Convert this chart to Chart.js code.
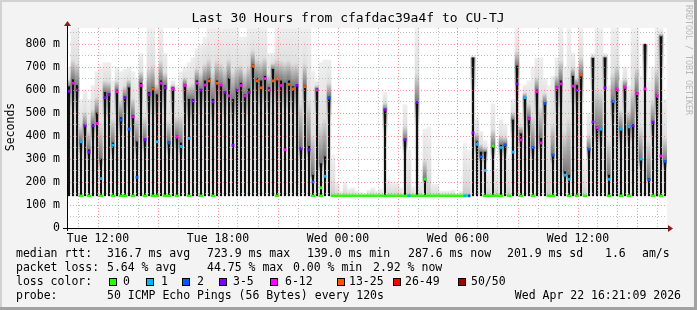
<!DOCTYPE html>
<html>
<head>
<meta charset="utf-8">
<script src="https://cdn.jsdelivr.net/npm/chart.js@4.4.1/dist/chart.umd.min.js"></script>
<style>
  html, body { margin: 0; padding: 0; background: #f3f3f3; }
  canvas { display: block; }
</style>
</head>
<body>
<canvas id="smokeChart" width="697" height="310"></canvas>
<script>
/* SmokePing style latency graph, last 30 hours */

// time axis in hours since Tue 00:00, one slot = 12 minutes
const startHour = 10.45;
const endHour = 40.45;
const slotHours = 0.2;
const baseRtt = 140; // floor of the smoke, ms

// top of the light smoke, ms
const smokeTop = [
  700, 868, 868, 560, 600, 560, 620, 680, 700, 720,
  720, 640, 700, 680, 690, 700, 680, 650, 760, 640,
  868, 868, 700, 868, 760, 600, 640, 620, 680, 700,
  720, 740, 780, 800, 830, 868, 868, 868, 868, 868,
  868, 868, 868, 830, 830, 868, 868, 868, 868, 868,
  760, 760, 868, 868, 868, 868, 868, 868, 868, 868,
  868, 680, 640, 720, 730, 730, 317, 200, 160, 200,
  170, 175, 160, 155, 150, 165, 175, 160, 170, 590,
  210, 200, 200, 175, 536, 340, 180, 868, 200, 430,
  440, 190, 190, 160, 160, 160, 165, 150, 160, 370,
  340, 750, 480, 420, 380, 250, 540, 260, 470, 450,
  320, 560, 868, 500, 620, 640, 700, 740, 740, 650,
  620, 660, 740, 868, 700, 868, 760, 700, 868, 300,
  500, 760, 868, 868, 760, 620, 868, 868, 640, 700,
  620, 868, 868, 660, 800, 640, 700, 868, 868, 560
];

// top of the dense (black) part of the smoke, ms
const coreTop = [
  615, 645, 620, 375, 445, 340, 450, 500, 300, 590,
  585, 370, 600, 480, 570, 610, 490, 375, 630, 385,
  590, 610, 580, 640, 620, 375, 610, 400, 370, 625,
  560, 560, 640, 600, 640, 650, 560, 640, 620, 590,
  650, 560, 600, 630, 580, 605, 710, 650, 640, 660,
  610, 690, 650, 640, 630, 640, 615, 620, 350, 620,
  355, 230, 605, 280, 310, 570, null, null, null, null,
  null, null, null, null, null, null, null, null, null, 514,
  null, null, null, null, 384, null, null, 546, null, 212,
  null, null, null, null, null, null, null, null, null, null,
  null, 740, 375, 330, 330, null, 357, null, 360, 362,
  null, 470, 705, 410, 567, 480, 350, 600, 390, 545,
  null, 320, 615, 640, 245, 230, 660, 620, 665, null,
  345, 738, 440, 430, 740, 230, 550, 605, 430, 615,
  440, 450, 590, 300, 800, 215, 461, 580, 832, 290
];

// median rtt when above the floor, ms
const median = [
  595, 630, 600, 375, 445, 330, 445, 455, 215, 567,
  580, 360, 593, 470, 567, 430, 484, 220, 620, 385,
  580, 605, 375, 630, 610, 370, 605, 395, 355, 620,
  390, 553, 630, 600, 622, 640, 549, 630, 622, 590,
  575, 360, 600, 620, 575, 590, 705, 640, 610, 650,
  600, 640, 648, 620, 340, 625, 605, 620, 345, 615,
  340, 200, 600, 175, 225, 565, null, null, null, null,
  null, null, null, null, null, null, null, null, null, 514,
  null, null, null, null, 384, 140, null, 546, null, 212,
  null, null, null, null, null, null, null, null, null, 140,
  140, 414, 365, 310, 250, null, 357, null, 350, 362,
  null, 330, 627, 383, 567, 475, 350, 593, 370, 542,
  null, 317, 610, 627, 230, 212, 617, 600, 665, null,
  343, 461, 436, 430, 610, 212, 550, 603, 430, 612,
  440, 445, 585, 300, 605, 210, 461, 575, 313, 290
];

// loss class of each slot (index into lossColors)
const loss = [
  3, 4, 3, 1, 3, 3, 3, 4, 1, 3,
  3, 1, 4, 2, 3, 2, 4, 2, 4, 3,
  3, 5, 1, 4, 3, 2, 4, 4, 1, 4,
  1, 3, 4, 3, 4, 5, 3, 5, 4, 3,
  4, 3, 3, 4, 4, 3, 5, 5, 5, 4,
  4, 5, 5, 4, 4, 5, 5, 3, 3, 5,
  3, 2, 4, 0, 1, 2, 0, 0, 0, 0,
  0, 0, 0, 0, 0, 0, 0, 0, 0, 3,
  0, 0, 0, 0, 3, 1, 0, 3, 0, 0,
  0, 0, 0, 0, 0, 0, 0, 0, 0, 1,
  2, 3, 1, 2, 1, 0, 0, 0, 1, 2,
  0, 1, 3, 4, 1, 4, 2, 4, 4, 2,
  0, 2, 4, 4, 1, 1, 4, 3, 5, 0,
  2, 3, 4, 1, 3, 1, 2, 4, 1, 4,
  1, 3, 4, 1, 4, 2, 3, 4, 4, 2
];

// slots where the median sits on the floor with no loss (green)
const baseSlots = [
  3, 5, 8, 11, 13, 14, 16, 19, 21, 22, 24, 25, 27, 30, 33, 36, 52, 61, 63,
  66, 67, 68, 69, 70, 71, 72, 73, 74, 75, 76, 77, 78, 79, 80, 81, 82, 83,
  84, 85, 86, 87, 88, 89, 90, 91, 92, 93, 94, 95, 96, 97, 98, 99,
  104, 105, 106, 107, 108, 110, 113, 116, 120, 121,
  125, 127, 129, 135, 138, 140, 146, 148
];

const lossColors = ['#26ff00', '#00b8ff', '#0059ff', '#7e00ff', '#ff00ff', '#ff5500', '#ff0000', '#a00000'];
const lossLabels = ['0', '1', '2', '3-5', '6-12', '13-25', '26-49', '50/50'];

const yTickValues = [0, 50, 100, 150, 200, 250, 300, 350, 400, 450, 500, 550, 600, 650, 700, 750, 800, 850];
const yTickLabels = ['0', '100 m', '200 m', '300 m', '400 m', '500 m', '600 m', '700 m', '800 m'];
const xTickHours = [11, 12, 13, 14, 15, 16, 17, 18, 19, 20, 21, 22, 23, 24, 25, 26, 27, 28, 29, 30,
  31, 32, 33, 34, 35, 36, 37, 38, 39, 40];
const xLabelHours = [12, 18, 24, 30, 36];
const xLabelTexts = ['Tue 12:00', 'Tue 18:00', 'Wed 00:00', 'Wed 06:00', 'Wed 12:00'];

const titleText = 'Last 30 Hours from cfafdac39a4f to CU-TJ';
const yAxisTitle = 'Seconds';
const rttStats = ['316.7 ms avg', '723.9 ms max', '139.0 ms min', '287.6 ms now', '201.9 ms sd', '1.6', 'am/s'];
const lossStats = ['5.64 % avg', '44.75 % max', '0.00 % min', '2.92 % now'];
const probeText = '50 ICMP Echo Pings (56 Bytes) every 120s';
const stampText = 'Wed Apr 22 16:21:09 2026';
const watermark = 'RRDTOOL / TOBI OETIKER';

const mono = '"DejaVu Sans Mono", "Liberation Mono", monospace';
const majorGrid = 'rgba(240, 110, 110, 0.7)';
const minorGrid = 'rgba(165, 165, 165, 0.7)';

const times = smokeTop.map((_, i) => startHour + slotHours * (i + 0.5));
const floating = arr => arr.map((v, i) => ({x: times[i], y: v === null ? null : [baseRtt, v]}));

// smoke is dark just above the dense part and fades out above and below
function smokeFill(c) {
    if (c.type !== 'data' || c.dataIndex === undefined) return '#e4e4e4';
    const i = c.dataIndex;
    const ys = c.chart.scales.y;
    if (!ys) return '#e4e4e4';
    const top = ys.getPixelForValue(smokeTop[i]);
    const bot = ys.getPixelForValue(baseRtt);
    if (!isFinite(top) || !isFinite(bot) || bot - top < 1) return '#e4e4e4';
    const g = c.chart.ctx.createLinearGradient(0, top, 0, bot);
    if (coreTop[i] === null) {
        g.addColorStop(0, '#f0f0f0');
        g.addColorStop(0.7, '#dedede');
        g.addColorStop(1, '#c8c8c8');
        return g;
    }
    let mid = (ys.getPixelForValue(coreTop[i]) - top) / (bot - top);
    mid = isFinite(mid) ? Math.max(0, Math.min(1, mid)) : 0.5;
    g.addColorStop(0, '#eeeeee');
    g.addColorStop(mid * 0.6, '#e0e0e0');
    g.addColorStop(mid, '#777777');
    g.addColorStop(Math.min(1, mid + (1 - mid) * 0.25), '#e6e6e6');
    g.addColorStop(1, '#fafafa');
    return g;
}

// frame, title, legend rows, arrows
const rrdDecor = {
    id: 'rrdDecor',
    beforeDraw(chart) {
        const {ctx, chartArea: a, width, height} = chart;
        ctx.save();
        ctx.fillStyle = '#f3f3f3';
        ctx.fillRect(0, 0, width, height);
        ctx.fillStyle = '#d2d2d2';
        ctx.fillRect(0, 0, width, 2);
        ctx.fillRect(0, 0, 2, height);
        ctx.fillStyle = '#a2a2a2';
        ctx.fillRect(0, height - 3, width, 3);
        ctx.fillRect(width - 3, 0, 3, height);
        ctx.fillStyle = '#ffffff';
        ctx.fillRect(a.left, a.top, a.right - a.left, a.bottom - a.top);
        ctx.restore();
    },
    afterDraw(chart) {
        const {ctx, chartArea: a} = chart;
        ctx.save();

        // axes with arrows
        ctx.strokeStyle = '#000000';
        ctx.lineWidth = 1;
        ctx.beginPath();
        ctx.moveTo(a.left - 4, a.bottom + 0.5);
        ctx.lineTo(a.right + 2, a.bottom + 0.5);
        ctx.moveTo(a.left + 0.5, a.bottom + 3);
        ctx.lineTo(a.left + 0.5, a.top - 3);
        ctx.stroke();
        ctx.fillStyle = '#8b1c1c';
        ctx.beginPath();
        ctx.moveTo(a.right + 6, a.bottom + 0.5);
        ctx.lineTo(a.right + 1, a.bottom - 3);
        ctx.lineTo(a.right + 1, a.bottom + 4);
        ctx.fill();
        ctx.beginPath();
        ctx.moveTo(a.left + 0.5, a.top - 7);
        ctx.lineTo(a.left - 3, a.top - 2);
        ctx.lineTo(a.left + 4, a.top - 2);
        ctx.fill();

        // title
        ctx.fillStyle = '#000000';
        ctx.textBaseline = 'middle';
        ctx.textAlign = 'center';
        ctx.font = '13px ' + mono;
        ctx.fillText(titleText, 348, 19);

        // y axis title
        ctx.font = '11.5px ' + mono;
        ctx.save();
        ctx.translate(11, 127);
        ctx.rotate(-Math.PI / 2);
        ctx.fillText(yAxisTitle, 0, 0);
        ctx.restore();

        // watermark on the right
        ctx.save();
        ctx.fillStyle = '#b9b9b9';
        ctx.font = '8.3px ' + mono;
        ctx.textAlign = 'left';
        ctx.translate(688, 5);
        ctx.rotate(Math.PI / 2);
        ctx.fillText(watermark, 0, 0);
        ctx.restore();

        // legend rows
        ctx.textAlign = 'left';
        ctx.font = '11.5px ' + mono;
        ctx.fillText('median rtt:', 16, 254);
        const rttX = [107, 207, 307, 408, 507, 605, 642];
        rttStats.forEach((t, k) => ctx.fillText(t, rttX[k], 254));

        ctx.fillText('packet loss:', 16, 268);
        const lossX = [107, 207, 293, 373];
        lossStats.forEach((t, k) => ctx.fillText(t, lossX[k], 268));

        ctx.fillText('loss color:', 16, 282);
        const boxX = [109, 146, 182, 219, 270, 337, 393, 458];
        const labelX = [123, 161, 197, 233, 285, 349, 405, 471];
        lossLabels.forEach((t, k) => {
            ctx.fillStyle = lossColors[k];
            ctx.fillRect(boxX[k], 278, 8, 8);
            ctx.strokeStyle = '#000000';
            ctx.strokeRect(boxX[k] + 0.5, 278.5, 7, 7);
            ctx.fillStyle = '#000000';
            ctx.fillText(t, labelX[k], 282);
        });

        ctx.fillText('probe:', 16, 296);
        ctx.fillText(probeText, 107, 296);
        ctx.textAlign = 'right';
        ctx.fillText(stampText, 681, 296);
        ctx.restore();
    }
};

const tickFont = {family: mono, size: 11.5};

new Chart(document.getElementById('smokeChart'), {
    type: 'bar',
    data: {
        datasets: [
            {
                type: 'line',
                label: 'median',
                data: median.map((v, i) => ({x: times[i], y: v})),
                showLine: false,
                pointStyle: 'rect',
                pointRadius: 2,
                pointBorderWidth: 0,
                pointBackgroundColor: c => lossColors[loss[c.dataIndex]] || lossColors[0],
                order: 1
            },
            {
                type: 'line',
                label: 'floor',
                data: baseSlots.map(i => ({x: times[i], y: baseRtt})),
                showLine: false,
                pointStyle: 'line',
                pointRadius: 2.3,
                pointBorderWidth: 2.5,
                pointBorderColor: lossColors[0],
                order: 2
            },
            {
                label: 'core',
                data: floating(coreTop),
                backgroundColor: '#111111',
                barThickness: 1.5,
                grouped: false,
                borderWidth: 0,
                order: 3
            },
            {
                label: 'smoke',
                data: floating(smokeTop),
                backgroundColor: smokeFill,
                barThickness: 4,
                grouped: false,
                borderWidth: 0,
                order: 4
            }
        ]
    },
    options: {
        responsive: false,
        animation: false,
        devicePixelRatio: 1,
        layout: {padding: {left: 0, top: 28, right: 30, bottom: 0}},
        scales: {
            x: {
                type: 'linear',
                min: startHour,
                max: endHour,
                offset: false,
                afterBuildTicks: s => { s.ticks = xTickHours.map(v => ({value: v})); },
                afterFit: s => { s.height = 82; },
                grid: {
                    color: c => (c.tick && c.tick.value % 3 === 0) ? majorGrid : minorGrid,
                    drawTicks: false,
                    offset: false,
                    z: 1
                },
                border: {display: false, dash: [1, 2]},
                ticks: {
                    autoSkip: false,
                    maxRotation: 0,
                    padding: 4,
                    color: '#000000',
                    font: tickFont,
                    callback: v => {
                        const k = xLabelHours.indexOf(v);
                        return k < 0 ? '' : xLabelTexts[k];
                    }
                }
            },
            y: {
                type: 'linear',
                min: 0,
                max: 870,
                afterBuildTicks: s => { s.ticks = yTickValues.map(v => ({value: v})); },
                afterFit: s => { s.width = 67; },
                grid: {
                    color: c => (c.tick && c.tick.value % 100 === 0) ? majorGrid : minorGrid,
                    drawTicks: false,
                    z: 1
                },
                border: {display: false, dash: [1, 2]},
                ticks: {
                    autoSkip: false,
                    padding: 7,
                    color: '#000000',
                    font: tickFont,
                    callback: v => v % 100 === 0 ? yTickLabels[v / 100] : ''
                }
            }
        },
        plugins: {
            legend: {display: false},
            tooltip: {enabled: false},
            title: {display: false}
        }
    },
    plugins: [rrdDecor]
});
</script>
</body>
</html>
